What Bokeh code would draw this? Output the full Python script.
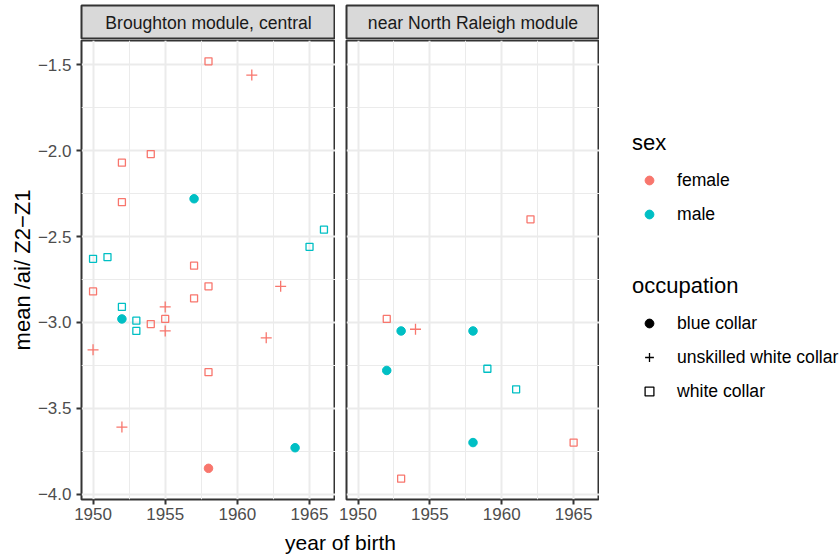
from bokeh.plotting import figure
from bokeh.layouts import row, column
from bokeh.models import (Range1d, FixedTicker, CustomJSTickFormatter, Legend,
                          LegendItem, Label, ColumnDataSource)
from bokeh.embed import file_html
from bokeh.resources import INLINE

FONT = "Liberation Sans"

# ---------------- data ----------------
facet_labels = ["Broughton module, central", "near North Raleigh module"]
x_ticks = [1950, 1955, 1960, 1965]
x_minor = [1947.5, 1952.5, 1957.5, 1962.5, 1967.5]
y_ticks = [-4.0, -3.5, -3.0, -2.5, -2.0, -1.5]
y_minor = [-4.25, -3.75, -3.25, -2.75, -2.25, -1.75, -1.25]
sex_levels = ["female", "male"]
occ_levels = ["blue collar", "unskilled white collar", "white collar"]

# Broughton module, central
b_year = [1958, 1961, 1952, 1954, 1952, 1957, 1966, 1965, 1950, 1951,
          1957, 1950, 1958, 1963, 1957, 1952, 1955, 1952, 1953, 1955,
          1954, 1953, 1955, 1950, 1962, 1958, 1952, 1964, 1958]
b_z = [-1.48, -1.56, -2.07, -2.02, -2.30, -2.28, -2.46, -2.56, -2.63, -2.62,
       -2.67, -2.82, -2.79, -2.79, -2.86, -2.91, -2.91, -2.98, -2.99, -2.98,
       -3.01, -3.05, -3.05, -3.16, -3.09, -3.29, -3.61, -3.73, -3.85]
b_sex = ["female", "female", "female", "female", "female", "male", "male", "male", "male", "male",
         "female", "female", "female", "female", "female", "male", "female", "male", "male", "female",
         "female", "male", "female", "female", "female", "female", "female", "male", "female"]
b_occ = ["white collar", "unskilled white collar", "white collar", "white collar", "white collar",
         "blue collar", "white collar", "white collar", "white collar", "white collar",
         "white collar", "white collar", "white collar", "unskilled white collar", "white collar",
         "white collar", "unskilled white collar", "blue collar", "white collar", "white collar",
         "white collar", "white collar", "unskilled white collar", "unskilled white collar",
         "unskilled white collar", "white collar", "unskilled white collar", "blue collar", "blue collar"]

# near North Raleigh module
n_year = [1962, 1952, 1953, 1954, 1958, 1952, 1959, 1961, 1958, 1965, 1953]
n_z = [-2.40, -2.98, -3.05, -3.04, -3.05, -3.28, -3.27, -3.39, -3.70, -3.70, -3.91]
n_sex = ["female", "female", "male", "female", "male", "male", "male", "male", "male", "female", "female"]
n_occ = ["white collar", "white collar", "blue collar", "unskilled white collar", "blue collar",
         "blue collar", "white collar", "white collar", "blue collar", "white collar", "white collar"]

# ---------------- styles ----------------
SEX_COLOR = {"female": "#F8766D", "male": "#00BFC4"}
OCC_MARK = {"blue collar": ("circle", 8.5, 1.0, 1.0),
            "unskilled white collar": ("cross", 11, 0.0, 1.3),
            "white collar": ("square", 7, 0.0, 1.3)}


def expand(lo, hi, f=0.05):
    d = (hi - lo) * f
    return lo - d, hi + d


xlo, xhi = expand(min(b_year + n_year), max(b_year + n_year))
ylo, yhi = expand(min(b_z + n_z), max(b_z + n_z))

ML = 81
GAP = 11
FW1, FW2 = 254, 253
FH = 459
STRIP_TOP = 5
STRIP_FH = 34
AXIS_B = 28
TITLE_H = 27
LEG_W = 840 - (ML + FW1 + GAP + FW2)

y_fmt = CustomJSTickFormatter(code="return tick.toFixed(1).replace('-', '\u2212');")


def make_strip(text, left, fw):
    s = figure(frame_width=fw, frame_height=STRIP_FH, min_border_left=left, min_border_right=0,
               min_border_top=STRIP_TOP, min_border_bottom=0,
               x_range=Range1d(0, 1), y_range=Range1d(0, 1), x_axis_type=None, y_axis_type=None,
               output_backend="svg", toolbar_location=None,
               background_fill_color="#D9D9D9", border_fill_color="white",
               outline_line_color="#333333", outline_line_width=2)
    s.grid.visible = False
    s.add_layout(Label(x=0.5, y=0.5, text=text, text_align="center", text_baseline="middle",
                       text_font=FONT, text_font_size="17.6px", text_color="#1A1A1A"))
    return s


def make_panel(years, z, sex, occ, left, fw, show_y):
    p = figure(frame_width=fw, frame_height=FH, min_border_left=left, min_border_right=0,
               min_border_top=1, min_border_bottom=AXIS_B,
               x_range=Range1d(xlo, xhi), y_range=Range1d(ylo, yhi),
               output_backend="svg", toolbar_location=None,
               background_fill_color="white", border_fill_color="white",
               outline_line_color="#333333", outline_line_width=2)
    xt = FixedTicker(ticks=x_ticks, minor_ticks=x_minor)
    yt = FixedTicker(ticks=y_ticks, minor_ticks=y_minor)
    p.xaxis.ticker = xt
    p.yaxis.ticker = yt
    p.xgrid.ticker = xt
    p.ygrid.ticker = yt
    p.yaxis.formatter = y_fmt
    for g in (p.xgrid, p.ygrid):
        g.grid_line_color = "#EBEBEB"
        g.grid_line_width = 2
        g.minor_grid_line_color = "#EBEBEB"
        g.minor_grid_line_width = 1
    for ax in (p.xaxis, p.yaxis):
        ax.axis_line_color = None
        ax.major_tick_line_color = "#333333"
        ax.major_tick_line_width = 2
        ax.major_tick_out = 5
        ax.major_tick_in = 0
        ax.minor_tick_line_color = None
        ax.major_label_text_font = FONT
        ax.major_label_text_font_size = "17px"
        ax.major_label_text_color = "#4D4D4D"
    p.xaxis.major_label_standoff = 3
    p.yaxis.major_label_standoff = 5
    if show_y:
        p.yaxis.axis_label = "mean /ai/ Z2\u2212Z1"
        p.yaxis.axis_label_text_font = FONT
        p.yaxis.axis_label_text_font_size = "22px"
        p.yaxis.axis_label_text_font_style = "normal"
        p.yaxis.axis_label_text_color = "black"
        p.yaxis.axis_label_standoff = 0
    else:
        p.yaxis.visible = False
    for o in occ_levels:
        idx = [i for i in range(len(years)) if occ[i] == o]
        if not idx:
            continue
        src = ColumnDataSource(dict(x=[years[i] for i in idx], y=[z[i] for i in idx],
                                    c=[SEX_COLOR[sex[i]] for i in idx]))
        m, sz, fa, lw = OCC_MARK[o]
        p.scatter("x", "y", source=src, marker=m, size=sz, fill_color="c", line_color="c",
                  fill_alpha=fa, line_width=lw)
    return p


s1 = make_strip(facet_labels[0], ML, FW1)
p1 = make_panel(b_year, b_z, b_sex, b_occ, ML, FW1, True)
s2 = make_strip(facet_labels[1], GAP, FW2)
p2 = make_panel(n_year, n_z, n_sex, n_occ, GAP, FW2, False)

# legend figure (proxy renderers hold no drawable point)
LEG_H = STRIP_TOP + STRIP_FH + 1 + FH + AXIS_B
lf = figure(width=LEG_W, height=LEG_H, min_border=0, x_range=Range1d(0, 1), y_range=Range1d(0, 1),
            x_axis_type=None, y_axis_type=None, output_backend="svg", toolbar_location=None,
            outline_line_color=None, background_fill_color="white", border_fill_color="white")
lf.grid.visible = False
nan = float("nan")
sex_items = []
for s in sex_levels:
    r = lf.scatter(x=[nan], y=[nan], marker="circle", fill_color=SEX_COLOR[s], line_color=SEX_COLOR[s])
    sex_items.append(LegendItem(label=s, renderers=[r]))
occ_items = []
for o in occ_levels:
    m, sz, fa, lw = OCC_MARK[o]
    r = lf.scatter(x=[nan], y=[nan], marker=m, fill_color="black", line_color="black",
                   fill_alpha=fa, line_width=lw)
    occ_items.append(LegendItem(label=o, renderers=[r]))


def style_legend(leg):
    leg.title_text_font = FONT
    leg.title_text_font_size = "22px"
    leg.title_text_font_style = "normal"
    leg.title_text_color = "black"
    leg.title_standoff = 13
    leg.label_text_font = FONT
    leg.label_text_font_size = "17.6px"
    leg.label_text_color = "black"
    leg.glyph_width = 34
    leg.glyph_height = 22
    leg.label_height = 22
    leg.label_standoff = 11
    leg.spacing = 12
    leg.padding = 0
    leg.margin = 0
    leg.border_line_color = None
    leg.background_fill_alpha = 0


leg1 = Legend(items=sex_items, title="sex", location=(33, 302))
leg2 = Legend(items=occ_items, title="occupation", location=(33, 125))
style_legend(leg1)
style_legend(leg2)
lf.add_layout(leg1)
lf.add_layout(leg2)

# x axis title spanning both panels
tf = figure(frame_width=FW1 + GAP + FW2, frame_height=TITLE_H, min_border_left=ML, min_border_right=0,
            min_border_top=0, min_border_bottom=0, x_range=Range1d(0, 1), y_range=Range1d(0, 1),
            x_axis_type=None, y_axis_type=None, output_backend="svg", toolbar_location=None,
            outline_line_color=None, background_fill_color="white", border_fill_color="white")
tf.grid.visible = False
tf.add_layout(Label(x=0.5, y=12, y_units="screen", text="year of birth", text_align="center",
                    text_baseline="middle", text_font=FONT, text_font_size="21px",
                    text_color="black"))

layout = column(row(column(s1, p1), column(s2, p2), lf), tf)

with open("out.html", "w") as f:
    f.write(file_html(layout, INLINE))
